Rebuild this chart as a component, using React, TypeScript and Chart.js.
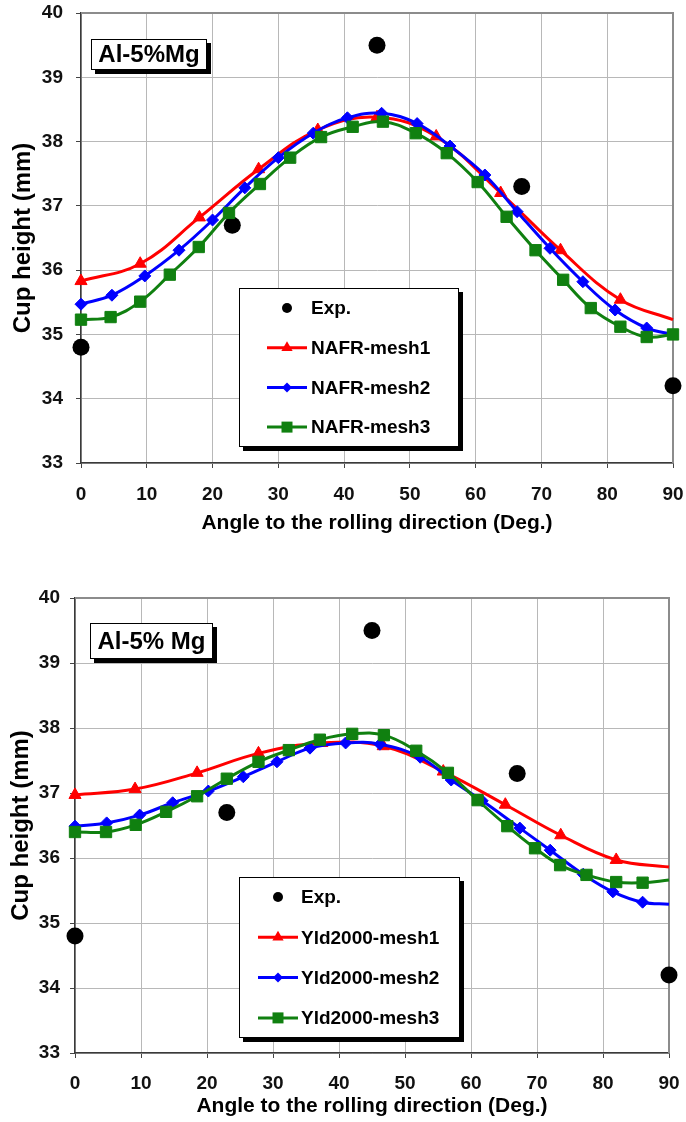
import React, { useEffect, useRef } from 'react';
import { Chart, registerables } from 'chart.js';

Chart.register(...registerables);

// ---------- data ----------
const expAngles = [0, 23, 45, 67, 90];
const expHeights = [34.8, 36.7, 39.5, 37.3, 34.2];

const nafrMesh1Angles = [0, 9, 18, 27, 36, 45, 54, 63.8, 72.9, 82, 90];
const nafrMesh1Heights = [35.83, 36.1, 36.82, 37.57, 38.18, 38.38, 38.08, 37.2, 36.31, 35.54, 35.23];

const nafrMesh2Angles = [0, 4.7, 9.7, 14.9, 20, 24.9, 30, 35.3, 40.5, 45.7, 51.1, 56.1, 61.4, 66.3, 71.3, 76.3, 81.2, 86, 90];
const nafrMesh2Heights = [35.47, 35.61, 35.91, 36.31, 36.78, 37.28, 37.75, 38.13, 38.37, 38.44, 38.28, 37.93, 37.48, 36.91, 36.34, 35.82, 35.38, 35.1, 35.0];

const nafrMesh3Angles = [0, 4.5, 9, 13.5, 17.9, 22.5, 27.2, 31.8, 36.5, 41.3, 45.9, 50.9, 55.6, 60.3, 64.7, 69.1, 73.3, 77.5, 82, 86, 90];
const nafrMesh3Heights = [35.23, 35.27, 35.51, 35.93, 36.36, 36.89, 37.34, 37.75, 38.07, 38.23, 38.31, 38.13, 37.82, 37.37, 36.83, 36.31, 35.85, 35.41, 35.12, 34.96, 35.0];

const yldMesh1Angles = [0, 9.1, 18.5, 27.8, 37.4, 46.7, 55.8, 65.2, 73.6, 82, 90];
const yldMesh1Heights = [36.97, 37.06, 37.31, 37.61, 37.77, 37.72, 37.33, 36.82, 36.35, 35.97, 35.86];

const yldMesh2Angles = [0, 4.8, 9.8, 14.8, 20.2, 25.5, 30.6, 35.6, 41, 46.2, 52.3, 57, 61.7, 67.4, 72, 77, 81.5, 86, 90];
const yldMesh2Heights = [36.49, 36.54, 36.66, 36.85, 37.03, 37.25, 37.48, 37.69, 37.77, 37.75, 37.55, 37.2, 36.88, 36.46, 36.12, 35.75, 35.48, 35.32, 35.29];

const yldMesh3Angles = [0, 4.7, 9.2, 13.8, 18.5, 23, 27.8, 32.4, 37.1, 42, 46.8, 51.7, 56.5, 61, 65.5, 69.7, 73.5, 77.5, 82, 86, 90];
const yldMesh3Heights = [36.4, 36.4, 36.51, 36.71, 36.95, 37.22, 37.48, 37.66, 37.82, 37.91, 37.89, 37.65, 37.31, 36.89, 36.49, 36.15, 35.89, 35.74, 35.63, 35.62, 35.66];

const xMin = 0, xMax = 90, xStep = 10;
const yMin = 33, yMax = 40, yStep = 1;

const xTitle = 'Angle to the rolling direction (Deg.)';
const yTitle = 'Cup height (mm)';

// ---------- helpers ----------
const FONT = "'Liberation Sans', Arial, Helvetica, sans-serif";
const RED = '#ff0000';
const BLUE = '#0000ff';
const GREEN = '#108010';

const zip = (xs: number[], ys: number[]) => xs.map((x, i) => ({ x, y: ys[i] }));

function drawMarker(ctx: CanvasRenderingContext2D, style: string, x: number, y: number, r: number, color: string) {
  ctx.save();
  ctx.fillStyle = color;
  ctx.beginPath();
  if (style === 'circle') {
    ctx.arc(x, y, r, 0, Math.PI * 2);
  } else if (style === 'triangle') {
    for (let k = 0; k < 3; k++) {
      const a = -Math.PI / 2 + (k * 2 * Math.PI) / 3;
      const px = x + Math.cos(a) * r;
      const py = y + Math.sin(a) * r;
      if (k === 0) ctx.moveTo(px, py); else ctx.lineTo(px, py);
    }
    ctx.closePath();
  } else if (style === 'rectRot') {
    ctx.moveTo(x, y - r); ctx.lineTo(x + r, y); ctx.lineTo(x, y + r); ctx.lineTo(x - r, y); ctx.closePath();
  } else {
    ctx.rect(x - r, y - r, 2 * r, 2 * r);
  }
  ctx.fill();
  ctx.restore();
}

type LegendItem = { label: string; color: string; style: string; line: boolean; r: number };

const overlayPlugin = {
  id: 'overlay',
  beforeDatasetsDraw(chart: any) {
    const { ctx } = chart;
    const { left, right, top, bottom } = chart.chartArea;
    ctx.save();
    ctx.strokeStyle = '#8c8c8c';
    ctx.lineWidth = 2;
    ctx.beginPath();
    ctx.moveTo(left, top);
    ctx.lineTo(right, top);
    ctx.lineTo(right, bottom);
    ctx.stroke();
    ctx.restore();
  },
  afterDraw(chart: any, _args: any, opts: any) {
    const { ctx } = chart;
    const nb = opts.nameBox;
    if (nb) {
      ctx.save();
      ctx.fillStyle = '#000';
      ctx.fillRect(nb.x + 4, nb.y + 4, nb.w, nb.h);
      ctx.fillStyle = '#fff';
      ctx.fillRect(nb.x, nb.y, nb.w, nb.h);
      ctx.strokeStyle = '#000';
      ctx.lineWidth = 1;
      ctx.strokeRect(nb.x + 0.5, nb.y + 0.5, nb.w - 1, nb.h - 1);
      ctx.fillStyle = '#000';
      ctx.font = `bold ${nb.size}px ${FONT}`;
      ctx.textAlign = 'center';
      ctx.textBaseline = 'middle';
      ctx.fillText(nb.text, nb.x + nb.w / 2, nb.y + nb.h / 2 + 1);
      ctx.restore();
    }
    const lg = opts.legend;
    if (lg) {
      ctx.save();
      ctx.fillStyle = '#000';
      ctx.fillRect(lg.x + 4, lg.y + 4, lg.w, lg.h);
      ctx.fillStyle = '#fff';
      ctx.fillRect(lg.x, lg.y, lg.w, lg.h);
      ctx.strokeStyle = '#000';
      ctx.lineWidth = 1;
      ctx.strokeRect(lg.x + 0.5, lg.y + 0.5, lg.w - 1, lg.h - 1);
      (lg.items as LegendItem[]).forEach((it, i) => {
        const cy = lg.firstY + i * lg.gap;
        if (it.line) {
          ctx.strokeStyle = it.color;
          ctx.lineWidth = 3;
          ctx.beginPath();
          ctx.moveTo(lg.symX - lg.lineHalf, cy);
          ctx.lineTo(lg.symX + lg.lineHalf, cy);
          ctx.stroke();
        }
        drawMarker(ctx, it.style, lg.symX, cy, it.r, it.color);
        ctx.fillStyle = '#000';
        ctx.font = `bold ${lg.size}px ${FONT}`;
        ctx.textAlign = 'left';
        ctx.textBaseline = 'middle';
        ctx.fillText(it.label, lg.textX, cy + 1);
      });
      ctx.restore();
    }
  },
};

function makeConfig(p: any) {
  const lineDs = (label: string, xs: number[], ys: number[], color: string, style: string, r: number, lastMarker: boolean, order: number) => ({
    label,
    data: zip(xs, ys),
    borderColor: color,
    backgroundColor: color,
    borderWidth: 3,
    showLine: true,
    tension: 0.4,
    pointStyle: style,
    pointRadius: xs.map((_, i) => (i === xs.length - 1 && !lastMarker ? 0 : r)),
    pointBorderWidth: 1,
    pointBorderColor: color,
    pointBackgroundColor: color,
    clip: false,
    order,
  });
  return {
    type: 'scatter',
    data: {
      datasets: [
        lineDs(p.names[2], p.s3[0], p.s3[1], GREEN, 'rect', 8, p.last3, 0),
        lineDs(p.names[1], p.s2[0], p.s2[1], BLUE, 'rectRot', 6, false, 1),
        lineDs(p.names[0], p.s1[0], p.s1[1], RED, 'triangle', 7, false, 2),
        {
          label: 'Exp.',
          data: zip(expAngles, expHeights),
          showLine: false,
          pointStyle: 'circle',
          pointRadius: 8.5,
          pointBackgroundColor: '#000',
          pointBorderColor: '#000',
          pointBorderWidth: 0,
          clip: false,
          order: 3,
        },
      ],
    },
    options: {
      animation: false,
      responsive: false,
      events: [],
      layout: { padding: { left: 0, top: p.padTop, right: p.padRight, bottom: 0 } },
      plugins: {
        legend: { display: false },
        tooltip: { enabled: false },
        overlay: {
          nameBox: p.nameBox,
          legend: {
            ...p.legendBox,
            size: 19,
            items: [
              { label: 'Exp.', color: '#000', style: 'circle', line: false, r: 5 },
              { label: p.names[0], color: RED, style: 'triangle', line: true, r: 6.5 },
              { label: p.names[1], color: BLUE, style: 'rectRot', line: true, r: 5 },
              { label: p.names[2], color: GREEN, style: 'rect', line: true, r: 5.5 },
            ],
          },
        },
      },
      scales: {
        x: {
          type: 'linear',
          min: xMin,
          max: xMax,
          afterFit: (s: any) => { s.height = p.xHeight; s.paddingLeft = 0; s.paddingRight = 0; },
          ticks: { stepSize: xStep, color: '#111', padding: p.xTickPad, font: { family: FONT, size: 19, weight: 'bold' } },
          grid: { color: '#b8b8b8', lineWidth: 1, tickLength: 5, tickColor: '#444', drawTicks: true },
          border: { color: '#3a3a3a', width: 1.5 },
          title: { display: true, text: xTitle, color: '#000', font: { family: FONT, size: 21, weight: 'bold' }, padding: { top: 0, bottom: p.xTitlePad } },
        },
        y: {
          type: 'linear',
          min: yMin,
          max: yMax,
          afterFit: (s: any) => { s.width = p.yWidth; s.paddingTop = 0; s.paddingBottom = 0; },
          ticks: { stepSize: yStep, color: '#111', padding: p.yTickPad, font: { family: FONT, size: 19, weight: 'bold' } },
          grid: { color: '#b8b8b8', lineWidth: 1, tickLength: 5, tickColor: '#444', drawTicks: true },
          border: { color: '#3a3a3a', width: 1.5 },
          title: { display: true, text: yTitle, color: '#000', font: { family: FONT, size: 24, weight: 'bold' }, padding: { top: p.yTitlePad, bottom: 0 } },
        },
      },
    },
    plugins: [overlayPlugin],
  };
}

const chart1Params = {
  names: ['NAFR-mesh1', 'NAFR-mesh2', 'NAFR-mesh3'],
  s1: [nafrMesh1Angles, nafrMesh1Heights],
  s2: [nafrMesh2Angles, nafrMesh2Heights],
  s3: [nafrMesh3Angles, nafrMesh3Heights],
  last3: true,
  padTop: 13,
  padRight: 13,
  xHeight: 97,
  yWidth: 81,
  yTickPad: 13,
  xTickPad: 15,
  yTitlePad: 9,
  xTitlePad: 24,
  nameBox: { x: 91, y: 39, w: 116, h: 31, text: 'Al-5%Mg', size: 24 },
  legendBox: { x: 239, y: 288, w: 220, h: 159, firstY: 308, gap: 39.7, symX: 287, lineHalf: 20, textX: 311 },
};

const chart2Params = {
  names: ['Yld2000-mesh1', 'Yld2000-mesh2', 'Yld2000-mesh3'],
  s1: [yldMesh1Angles, yldMesh1Heights],
  s2: [yldMesh2Angles, yldMesh2Heights],
  s3: [yldMesh3Angles, yldMesh3Heights],
  last3: false,
  padTop: 38,
  padRight: 17,
  xHeight: 69,
  yWidth: 75,
  yTickPad: 10,
  xTickPad: 14,
  yTitlePad: 7,
  xTitlePad: 3,
  nameBox: { x: 90, y: 63, w: 123, h: 36, text: 'Al-5% Mg', size: 24 },
  legendBox: { x: 239, y: 317, w: 221, h: 161, firstY: 337, gap: 40.3, symX: 278, lineHalf: 20, textX: 301 },
};

function ChartCanvas({ params, height, top }: { params: any; height: number; top: number }) {
  const ref = useRef<HTMLCanvasElement | null>(null);
  useEffect(() => {
    if (!ref.current) return;
    const chart = new Chart(ref.current, makeConfig(params) as any);
    return () => chart.destroy();
  }, []);
  return (
    <canvas
      ref={ref}
      width={686}
      height={height}
      style={{ position: 'absolute', left: 0, top, width: 686, height, display: 'block' }}
    />
  );
}

export default function App() {
  return (
    <div style={{ position: 'absolute', left: 0, top: 0, width: 686, height: 1122, background: '#fff' }}>
      <ChartCanvas params={chart1Params} height={560} top={0} />
      <ChartCanvas params={chart2Params} height={562} top={560} />
    </div>
  );
}
